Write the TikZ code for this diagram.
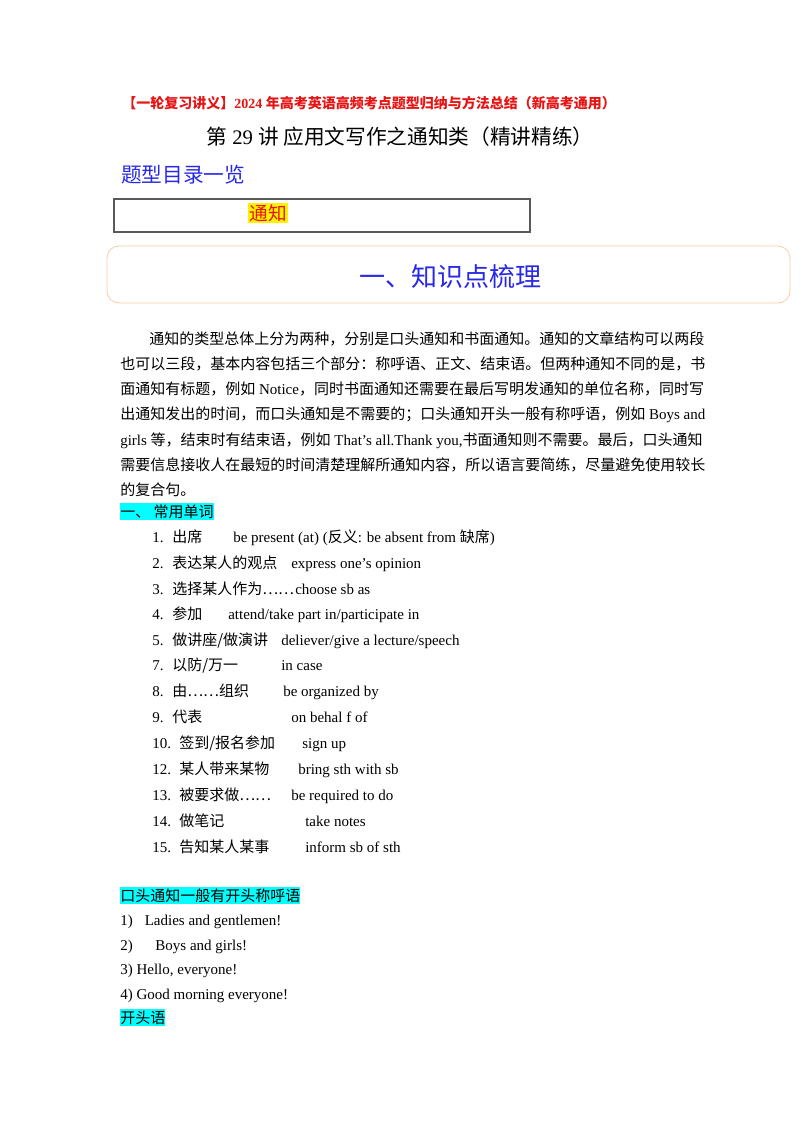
\documentclass[tikz,border=0pt]{standalone}
\usepackage{fontspec}
\setmainfont{Liberation Serif}
\newfontfamily\cjk{Noto Sans CJK SC}
\definecolor{hdred}{RGB}{230,20,20}
\definecolor{ttlblue}{RGB}{40,40,230}
\definecolor{boxorg}{RGB}{248,205,165}
\definecolor{hlcyan}{RGB}{0,255,255}
\begin{document}
\begin{tikzpicture}[x=0.75pt,y=-0.75pt,
  tx/.style={anchor=base west,inner sep=0pt,font=\fontsize{11.25}{13}\selectfont},
  cy/.style={tx,fill=hlcyan,inner ysep=1.2pt}]
\useasboundingbox (0,0) rectangle (800,1132);
\fill[white] (0,0) rectangle (800,1132);
\node[tx,text=hdred,font=\fontsize{10.5}{12}\selectfont\bfseries] (h1) at (122,108) {{\cjk 【一轮复习讲义】}2024 {\cjk 年高考英语高频考点题型归纳与方法总结（新高考通用）}};
\node[inner sep=0pt,font=\fontsize{15.5}{18}\selectfont] (h2) at (400,137) {{\cjk 第} 29 {\cjk 讲 应用文写作之通知类（精讲精练）}};
\node[tx,text=ttlblue,font=\fontsize{15.5}{18}\selectfont\cjk] (h3) at (121,182) {题型目录一览};
\draw[gray!70!black,line width=0.8pt] (114,199) rectangle (530,232);
\node[tx,fill=yellow,text=hdred,font=\fontsize{14}{16}\selectfont\cjk,inner sep=0.8pt] (tz) at (248,220) {通知};
\draw[boxorg,line width=0.6pt,rounded corners=9pt] (107,246) rectangle (790,303);
\node[inner sep=0pt,text=ttlblue,font=\fontsize{19.5}{22}\selectfont\cjk] (k1) at (450,277) {一、知识点梳理};
\node[tx] (p1) at (149,344) {\cjk 通知的类型总体上分为两种，分别是口头通知和书面通知。通知的文章结构可以两段};
\node[tx] (p2) at (120,369) {\cjk 也可以三段，基本内容包括三个部分：称呼语、正文、结束语。但两种通知不同的是，书};
\node[tx] (p3) at (120,394) {{\cjk 面通知有标题，例如} Notice{\cjk ，同时书面通知还需要在最后写明发通知的单位名称，同时写}};
\node[tx] (p4) at (120,419) {{\cjk 出通知发出的时间，而口头通知是不需要的；口头通知开头一般有称呼语，例如} Boys and};
\node[tx] (p5) at (120,445) {girls {\cjk 等，结束时有结束语，例如} That’s all.Thank you,{\cjk 书面通知则不需要。最后，口头通知}};
\node[tx] (p6) at (120,470) {\cjk 需要信息接收人在最短的时间清楚理解所通知内容，所以语言要简练，尽量避免使用较长};
\node[tx] (p7) at (120,495) {\cjk 的复合句。};
\node[cy] (s1) at (120,517) {\cjk 一、 常用单词};
\def\L#1#2#3#4#5{\node[tx] (n#1) at (152,#1+5) {#2};
 \node[tx,font=\fontsize{11.25}{13}\selectfont\cjk] (c#1) at (#3,#1+5) {#4};
 \node[tx] (e#1) at (#5,#1+5)}
\L{537}{1.}{172}{出席}{233} {be present (at) ({\cjk 反义}: be absent from {\cjk 缺席})};
\L{563}{2.}{172}{表达某人的观点}{291} {express one’s opinion};
\L{589}{3.}{172}{选择某人作为……}{295} {choose sb as};
\L{614}{4.}{172}{参加}{228} {attend/take part in/participate in};
\L{640}{5.}{172}{做讲座/做演讲}{281} {deliever/give a lecture/speech};
\L{665}{7.}{172}{以防/万一}{281} {in case};
\L{691}{8.}{172}{由……组织}{283} {be organized by};
\L{717}{9.}{172}{代表}{291} {on behal f of};
\L{743}{10.}{179}{签到/报名参加}{302} {sign up};
\L{769}{12.}{179}{某人带来某物}{298} {bring sth with sb};
\L{795}{13.}{179}{被要求做……}{291} {be required to do};
\L{821}{14.}{179}{做笔记}{305} {take notes};
\L{847}{15.}{179}{告知某人某事}{305} {inform sb of sth};
\node[cy] (s2) at (120,901) {\cjk 口头通知一般有开头称呼语};
\node[tx] (g1) at (120,925) {1)\hspace{9pt}Ladies and gentlemen!};
\node[tx] (g2) at (120,950) {2)\hspace{17pt}Boys and girls!};
\node[tx] (g3) at (120,974) {3) Hello, everyone!};
\node[tx] (g4) at (120,999) {4) Good morning everyone!};
\node[cy] (s3) at (120,1023) {\cjk 开头语};
\end{tikzpicture}
\end{document}
